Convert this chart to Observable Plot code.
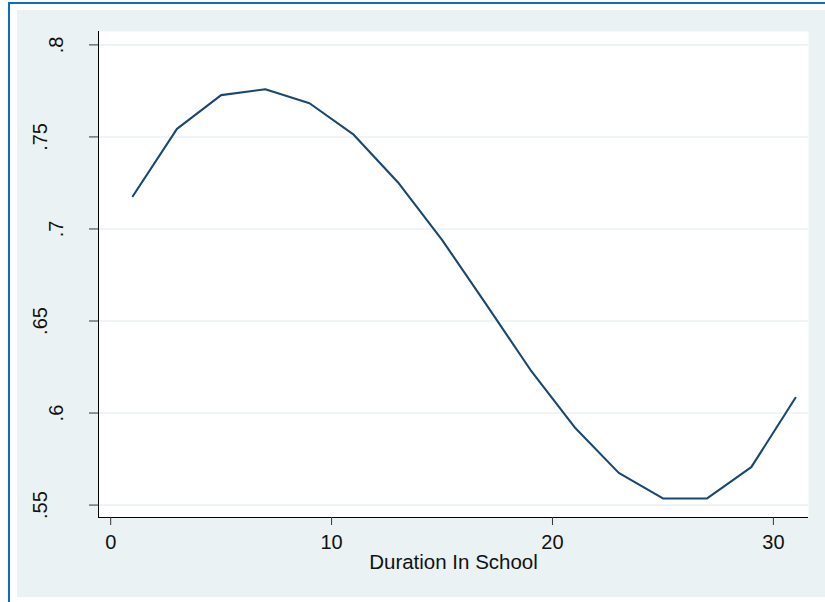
<!DOCTYPE html>
<html>
<head>
<meta charset="utf-8">
<script src="https://cdn.jsdelivr.net/npm/d3@7"></script>
<script src="https://cdn.jsdelivr.net/npm/@observablehq/plot@0.6"></script>
<style>
  html, body { margin: 0; padding: 0; background: #ffffff; }
  #wrap { position: relative; width: 825px; height: 602px; overflow: hidden; font-family: "Liberation Sans", Arial, Helvetica, sans-serif; }
  #frameline { position: absolute; left: 8px; top: 2px; width: 830px; height: 610px; border-left: 2px solid #0b6cc6; border-top: 2px solid #0b6cc6; }
  #graphregion { position: absolute; left: 17px; top: 10px; width: 808px; height: 587px; background: #eaf2f3; }
  #chart { position: absolute; left: 0; top: 0; }
  #chart svg { overflow: visible; background: transparent; }
</style>
</head>
<body>
<div id="wrap">
  <div id="frameline"></div>
  <div id="graphregion"></div>
  <div id="chart"></div>
</div>
<script>
// Data
const duration = [1, 3, 5, 7, 9, 11, 13, 15, 17, 19, 21, 23, 25, 27, 29, 31];
const share = [0.7178, 0.7544, 0.7727, 0.7759, 0.7683, 0.7512, 0.7254, 0.6941,
               0.6590, 0.6235, 0.5923, 0.5675, 0.5536, 0.5536, 0.5706, 0.6083];

const xTicks = [0, 10, 20, 30];
const xTickLabels = ["0", "10", "20", "30"];
const yTicks = [0.55, 0.6, 0.65, 0.7, 0.75, 0.8];
const yTickLabels = [".55", ".6", ".65", ".7", ".75", ".8"];
const xTitle = "Duration In School";

const xDomain = [-0.552, 31.59];
const yDomain = [0.54325, 0.80728];

const rows = duration.map((d, i) => ({duration: d, share: share[i]}));
const yLab = yTicks.map((v, i) => ({v, label: yTickLabels[i]}));
const yLabShort = yLab.filter(d => d.label.length <= 2);
const yLabLong = yLab.filter(d => d.label.length > 2);
const xLab = xTicks.map((v, i) => ({v, label: xTickLabels[i]}));

const font = "Liberation Sans, Arial, Helvetica, sans-serif";

const chart = Plot.plot({
  width: 825,
  height: 602,
  marginLeft: 98,
  marginRight: 17,
  marginTop: 31,
  marginBottom: 85,
  style: {background: "transparent", fontFamily: font, overflow: "visible"},
  x: {domain: xDomain, axis: null},
  y: {domain: yDomain, axis: null},
  marks: [
    Plot.frame({fill: "white", stroke: null}),
    Plot.ruleY(yTicks, {y: d => d, stroke: "#eaf2f3", strokeWidth: 1.6}),
    Plot.ruleX([xDomain[0]], {stroke: "#000000", strokeWidth: 1}),
    Plot.ruleY([yDomain[0]], {stroke: "#000000", strokeWidth: 1}),
    Plot.axisX(xTicks, {tickSize: 8, fill: "none", stroke: "#333333", label: null}),
    Plot.axisY(yTicks, {tickSize: 9, fill: "none", stroke: "#333333", label: null}),
    Plot.text(xLab, {x: "v", text: "label", frameAnchor: "bottom", lineAnchor: "bottom", dy: 31, fontSize: 20, fill: "#111111", fontFamily: font}),
    Plot.text(yLabShort, {y: "v", text: "label", frameAnchor: "left", rotate: -90, textAnchor: "middle", lineAnchor: "bottom", dx: -35.5, fontSize: 20, fill: "#111111", fontFamily: font}),
    Plot.text(yLabLong, {y: "v", text: "label", frameAnchor: "left", rotate: -90, textAnchor: "middle", lineAnchor: "bottom", dx: -51.5, fontSize: 20, fill: "#111111", fontFamily: font}),
    Plot.text([xTitle], {text: d => d, frameAnchor: "bottom", lineAnchor: "bottom", dy: 51, fontSize: 20.5, fill: "#111111", fontFamily: font}),
    Plot.line(rows, {x: "duration", y: "share", stroke: "#1a476f", strokeWidth: 2.1, strokeLinejoin: "miter"})
  ]
});
document.getElementById("chart").appendChild(chart);
</script>
</body>
</html>
